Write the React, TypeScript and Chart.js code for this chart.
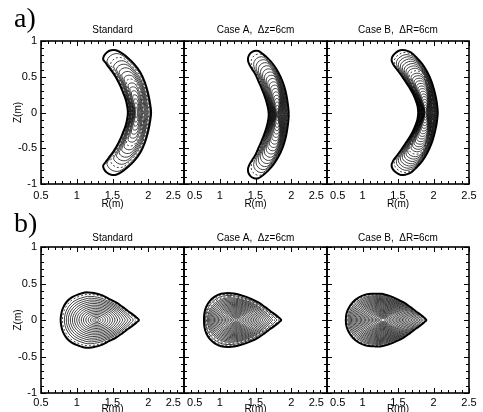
import React, { useEffect, useRef } from "react";
import { Chart, registerables } from "chart.js";

Chart.register(...registerables);

const SANS = '"Liberation Sans", Arial, Helvetica, sans-serif';
const SERIF = '"Liberation Serif", "Times New Roman", serif';

// ---------------- axis ticks ----------------
const rTicks = [0.5, 1, 1.5, 2, 2.5];
const zTicks = [-1, -0.5, 0, 0.5, 1];
const minorStep = 0.1;

// ---------------- titles ----------------
const panelTitles = ["Standard", "Case A,  \u0394z=6cm", "Case B,  \u0394R=6cm"];

// ---------------- row a) crescent boundaries (upper half: outer Z=0 -> top -> inner Z=0) ----------------
const crescentCurvatureR = 0.9;

const stdCresR = [2.04, 2.035, 2.02, 1.99, 1.95, 1.89, 1.81, 1.72, 1.63, 1.55, 1.48, 1.42, 1.38, 1.37, 1.40, 1.45, 1.51, 1.56, 1.61, 1.65, 1.685, 1.705, 1.715];
const stdCresZ = [0.00, 0.06, 0.16, 0.30, 0.43, 0.56, 0.67, 0.76, 0.83, 0.87, 0.87, 0.84, 0.79, 0.74, 0.70, 0.63, 0.55, 0.47, 0.37, 0.27, 0.18, 0.09, 0.00];
const stdCresAxisR = 1.83;
const stdCresShift = 0;

const caCresR = [1.965, 1.96, 1.945, 1.92, 1.88, 1.82, 1.75, 1.67, 1.60, 1.54, 1.48, 1.43, 1.40, 1.395, 1.41, 1.45, 1.50, 1.54, 1.58, 1.62, 1.65, 1.675, 1.685];
const caCresZ = [0.00, 0.08, 0.20, 0.33, 0.46, 0.59, 0.70, 0.79, 0.85, 0.89, 0.89, 0.86, 0.81, 0.76, 0.71, 0.64, 0.56, 0.47, 0.38, 0.28, 0.19, 0.09, 0.00];
const caCresAxisR = 1.80;
const caCresShift = -0.03;

const cbCresR = [2.06, 2.055, 2.04, 2.01, 1.97, 1.91, 1.84, 1.76, 1.68, 1.60, 1.53, 1.46, 1.42, 1.41, 1.43, 1.48, 1.54, 1.60, 1.66, 1.71, 1.75, 1.775, 1.785];
const cbCresZ = [0.00, 0.07, 0.18, 0.31, 0.44, 0.57, 0.68, 0.77, 0.84, 0.87, 0.87, 0.83, 0.78, 0.73, 0.68, 0.61, 0.53, 0.44, 0.35, 0.26, 0.17, 0.09, 0.00];
const cbCresAxisR = 1.89;
const cbCresShift = 0;

// ---------------- row b) D-shaped boundaries (upper half: tip Z=0 -> top -> inner Z=0) ----------------
const stdDR = [1.87, 1.84, 1.79, 1.72, 1.64, 1.55, 1.45, 1.35, 1.24, 1.13, 1.02, 0.93, 0.86, 0.81, 0.785, 0.775];
const stdDZ = [0.00, 0.03, 0.07, 0.12, 0.18, 0.24, 0.29, 0.34, 0.37, 0.38, 0.35, 0.31, 0.25, 0.17, 0.09, 0.00];
const stdDAxisR = 1.28;
const stdCoreHalfR = 0.55; // half-width / half-height of the elliptical core surfaces
const stdCoreHalfZ = 0.34;

const caDR = [1.86, 1.83, 1.78, 1.71, 1.63, 1.54, 1.44, 1.33, 1.22, 1.12, 1.02, 0.93, 0.86, 0.81, 0.785, 0.78];
const caDZ = [0.00, 0.03, 0.07, 0.12, 0.18, 0.24, 0.29, 0.33, 0.36, 0.37, 0.36, 0.32, 0.26, 0.18, 0.09, 0.00];
const caDAxisR = 1.23;
const caCoreHalfR = 0.54;
const caCoreHalfZ = 0.35;

const cbDR = [1.90, 1.87, 1.82, 1.75, 1.67, 1.58, 1.48, 1.38, 1.27, 1.16, 1.05, 0.95, 0.87, 0.81, 0.775, 0.765];
const cbDZ = [0.00, 0.03, 0.07, 0.12, 0.18, 0.24, 0.29, 0.33, 0.36, 0.36, 0.35, 0.31, 0.25, 0.17, 0.09, 0.00];
const cbDAxisR = 1.29;
const cbCoreHalfR = 0.57;
const cbCoreHalfZ = 0.35;

// ---------------- flux-surface levels (fraction of the boundary) ----------------
const levelsStdA = [1, 0.93, 0.86, 0.80, 0.74, 0.68, 0.62, 0.56, 0.50, 0.44, 0.38, 0.32, 0.26, 0.20, 0.14, 0.08];
const dashedStdA = [0.86, 0.50];
const levelsCaseAA = [1, 0.94, 0.89, 0.84, 0.79, 0.74, 0.69, 0.64, 0.59, 0.54, 0.49, 0.44, 0.39, 0.34, 0.29, 0.24, 0.19, 0.14, 0.09, 0.05];
const dashedCaseAA = [0.94];
const levelsCaseBA = [1, 0.95, 0.91, 0.87, 0.83, 0.79, 0.75, 0.71, 0.67, 0.63, 0.59, 0.55, 0.51, 0.47, 0.43, 0.39, 0.35, 0.31, 0.27, 0.23, 0.19, 0.15, 0.11, 0.07];
const dashedCaseBA = [0.95, 0.63];
const levelsStdB = [1, 0.94, 0.88, 0.82, 0.76, 0.70, 0.64, 0.58, 0.52, 0.46, 0.40, 0.34, 0.28, 0.22, 0.16, 0.10, 0.05];
const dashedStdB = [0.94];
const levelsCaseAB = [1, 0.96, 0.92, 0.88, 0.84, 0.80, 0.76, 0.72, 0.68, 0.64, 0.60, 0.56, 0.52, 0.48, 0.44, 0.40, 0.36, 0.32, 0.28, 0.24, 0.20, 0.16, 0.12, 0.08, 0.04];
const dashedCaseAB = [0.96, 0.88];
const levelsCaseBB = [1, 0.965, 0.93, 0.895, 0.86, 0.825, 0.79, 0.755, 0.72, 0.685, 0.65, 0.615, 0.58, 0.545, 0.51, 0.475, 0.44, 0.405, 0.37, 0.335, 0.30, 0.265, 0.23, 0.195, 0.16, 0.125, 0.09, 0.055];
const dashedCaseBB = [0.965];

type PanelData = {
  title: string;
  R: number[];
  Z: number[];
  zShift: number;
  axisR: number;
  coreR: number;
  coreZ: number;
  levels: number[];
  dashed: number[];
  crescent: boolean;
};

const rowA: PanelData[] = [
  { title: panelTitles[0], R: stdCresR, Z: stdCresZ, zShift: stdCresShift, axisR: stdCresAxisR, coreR: 0, coreZ: 0, levels: levelsStdA, dashed: dashedStdA, crescent: true },
  { title: panelTitles[1], R: caCresR, Z: caCresZ, zShift: caCresShift, axisR: caCresAxisR, coreR: 0, coreZ: 0, levels: levelsCaseAA, dashed: dashedCaseAA, crescent: true },
  { title: panelTitles[2], R: cbCresR, Z: cbCresZ, zShift: cbCresShift, axisR: cbCresAxisR, coreR: 0, coreZ: 0, levels: levelsCaseBA, dashed: dashedCaseBA, crescent: true },
];
const rowB: PanelData[] = [
  { title: panelTitles[0], R: stdDR, Z: stdDZ, zShift: 0, axisR: stdDAxisR, coreR: stdCoreHalfR, coreZ: stdCoreHalfZ, levels: levelsStdB, dashed: dashedStdB, crescent: false },
  { title: panelTitles[1], R: caDR, Z: caDZ, zShift: 0, axisR: caDAxisR, coreR: caCoreHalfR, coreZ: caCoreHalfZ, levels: levelsCaseAB, dashed: dashedCaseAB, crescent: false },
  { title: panelTitles[2], R: cbDR, Z: cbDZ, zShift: 0, axisR: cbDAxisR, coreR: cbCoreHalfR, coreZ: cbCoreHalfZ, levels: levelsCaseBB, dashed: dashedCaseBB, crescent: false },
];

// ---------------- layout ----------------
const colLeft = [41, 184, 327];
const colRight = [184, 327, 469];
const Y_AXIS_W = 41;
const PAD_R = 24;
const rows = [
  { data: rowA, top: 41, bottom: 184, canvasTop: 20, canvasBottom: 212, titleGap: 5, tickPad: 5, xTitlePad: 2 },
  { data: rowB, top: 247, bottom: 393, canvasTop: 228, canvasBottom: 428, titleGap: 3, tickPad: 3, xTitlePad: 13 },
];

function contour(p: PanelData, s: number) {
  const upper = p.R.map((r, i) => [r, p.Z[i]]);
  const lower = upper.slice().reverse().slice(1).map(([r, z]) => [r, -z]);
  let ring = upper.concat(lower).slice(0, -1);
  if (!p.crescent) {
    // start the closed loop at the top of the surface so the tip is smoothed like the rest
    let k = 0;
    p.Z.forEach((z, i) => {
      if (z > p.Z[k]) k = i;
    });
    ring = ring.slice(k).concat(ring.slice(0, k));
  }
  const closed = ring.concat([ring[0]]);
  return closed.map(([r, z]) => {
    if (p.crescent) {
      const c = crescentCurvatureR;
      const th = Math.atan2(z, r - c);
      const rho = Math.hypot(r - c, z);
      const rhoA = p.axisR - c;
      const th2 = s * th;
      const rho2 = rhoA + s * (rho - rhoA);
      return { x: c + rho2 * Math.cos(th2), y: rho2 * Math.sin(th2) + p.zShift };
    }
    const dx = r - p.axisR;
    const phi = Math.atan2(z, dx);
    const rb = Math.hypot(dx, z);
    const re = (p.coreR * p.coreZ) / Math.hypot(p.coreZ * Math.cos(phi), p.coreR * Math.sin(phi));
    const rad = s * (re + s * s * (rb - re));
    return { x: p.axisR + rad * Math.cos(phi), y: rad * Math.sin(phi) + p.zShift };
  });
}

const frameTicks = {
  id: "frameTicks",
  afterDatasetsDraw(chart: any) {
    const { ctx, chartArea: a } = chart;
    const xs = chart.scales.x;
    const ys = chart.scales.y;
    ctx.save();
    ctx.strokeStyle = "#000";
    ctx.lineWidth = 1;
    ctx.beginPath();
    const nx = Math.round((xs.max - xs.min) / minorStep);
    for (let k = 0; k <= nx; k++) {
      const v = xs.min + k * minorStep;
      const major = rTicks.some((t) => Math.abs(t - v) < 1e-6);
      const len = major ? 5 : 3;
      const px = Math.round(xs.getPixelForValue(v)) + 0.5;
      ctx.moveTo(px, a.bottom);
      ctx.lineTo(px, a.bottom - len);
      ctx.moveTo(px, a.top);
      ctx.lineTo(px, a.top + len);
    }
    const ny = Math.round((ys.max - ys.min) / minorStep);
    for (let k = 0; k <= ny; k++) {
      const v = ys.min + k * minorStep;
      const major = zTicks.some((t) => Math.abs(t - v) < 1e-6);
      const len = major ? 5 : 3;
      const py = Math.round(ys.getPixelForValue(v)) + 0.5;
      ctx.moveTo(a.left, py);
      ctx.lineTo(a.left + len, py);
      ctx.moveTo(a.right, py);
      ctx.lineTo(a.right - len, py);
    }
    ctx.stroke();
    ctx.lineWidth = 1.6;
    ctx.strokeRect(a.left, a.top, a.right - a.left, a.bottom - a.top);
    ctx.restore();
  },
};

const GAP = "       ";

function buildConfig(p: PanelData, col: number, row: any): any {
  const datasets = p.levels.map((s) => ({
    data: contour(p, s),
    showLine: true,
    borderColor: "#000",
    borderWidth: s === 1 ? 2 : 0.75,
    borderDash: p.dashed.includes(s) ? [2, 2] : [],
    pointRadius: 0,
    tension: 0.4,
    fill: false,
  }));
  const xH = row.canvasBottom - row.bottom;
  return {
    type: "scatter",
    data: { datasets },
    plugins: [frameTicks],
    options: {
      animation: false,
      responsive: false,
      events: [],
      layout: { padding: { top: 4, right: PAD_R, left: 0, bottom: 0 } },
      plugins: {
        legend: { display: false },
        tooltip: { enabled: false },
        title: {
          display: true,
          text: p.title,
          fullSize: false,
          color: "#000",
          font: { family: SANS, size: 10, weight: "normal" },
          padding: { top: 0, bottom: row.titleGap },
        },
      },
      scales: {
        x: {
          type: "linear",
          min: 0.5,
          max: 2.5,
          afterBuildTicks: (s: any) => {
            s.ticks = rTicks.map((v) => ({ value: v }));
          },
          afterFit: (s: any) => {
            s.height = xH;
          },
          grid: { display: false, drawTicks: false },
          border: { display: false },
          ticks: {
            autoSkip: false,
            maxRotation: 0,
            padding: row.tickPad,
            color: "#000",
            font: { family: SANS, size: 11 },
            callback: (v: any, i: number, ticks: any[]) => {
              let t = String(v);
              if (i === 0 && col > 0) t = GAP + t;
              if (i === ticks.length - 1 && col < 2) t = t + GAP;
              return t;
            },
          },
          title: {
            display: true,
            text: "R(m)",
            color: "#000",
            font: { family: SANS, size: 10 },
            padding: { top: 0, bottom: row.xTitlePad },
          },
        },
        y: {
          type: "linear",
          min: -1,
          max: 1,
          afterBuildTicks: (s: any) => {
            s.ticks = zTicks.map((v) => ({ value: v }));
          },
          afterFit: (s: any) => {
            s.width = Y_AXIS_W;
          },
          grid: { display: false, drawTicks: false },
          border: { display: false },
          ticks: {
            display: col === 0,
            padding: 4,
            color: "#000",
            font: { family: SANS, size: 11 },
            callback: (v: any) => String(v),
          },
          title: {
            display: col === 0,
            text: "Z(m)",
            color: "#000",
            font: { family: SANS, size: 10 },
            padding: { top: 12, bottom: 0 },
          },
        },
      },
    },
  };
}

function Panel({ p, col, row }: { p: PanelData; col: number; row: any }) {
  const ref = useRef<HTMLCanvasElement>(null);
  const left = colLeft[col] - Y_AXIS_W;
  const width = colRight[col] - colLeft[col] + Y_AXIS_W + PAD_R;
  const height = row.canvasBottom - row.canvasTop;
  useEffect(() => {
    const chart = new Chart(ref.current as HTMLCanvasElement, buildConfig(p, col, row));
    return () => chart.destroy();
  }, []);
  return (
    <canvas
      ref={ref}
      width={width}
      height={height}
      style={{ position: "absolute", left, top: row.canvasTop, width, height }}
    />
  );
}

export default function App() {
  return (
    <div
      style={{
        position: "absolute",
        left: 0,
        top: 0,
        width: 483,
        height: 412,
        overflow: "hidden",
        background: "#fff",
      }}
    >
      {rows.map((row, ri) =>
        row.data.map((p, ci) => <Panel key={`${ri}-${ci}`} p={p} col={ci} row={row} />)
      )}
      <div style={{ position: "absolute", left: 14, top: 4, fontFamily: SERIF, fontSize: 28, lineHeight: "28px", color: "#000" }}>a)</div>
      <div style={{ position: "absolute", left: 14, top: 209, fontFamily: SERIF, fontSize: 28, lineHeight: "28px", color: "#000" }}>b)</div>
    </div>
  );
}
